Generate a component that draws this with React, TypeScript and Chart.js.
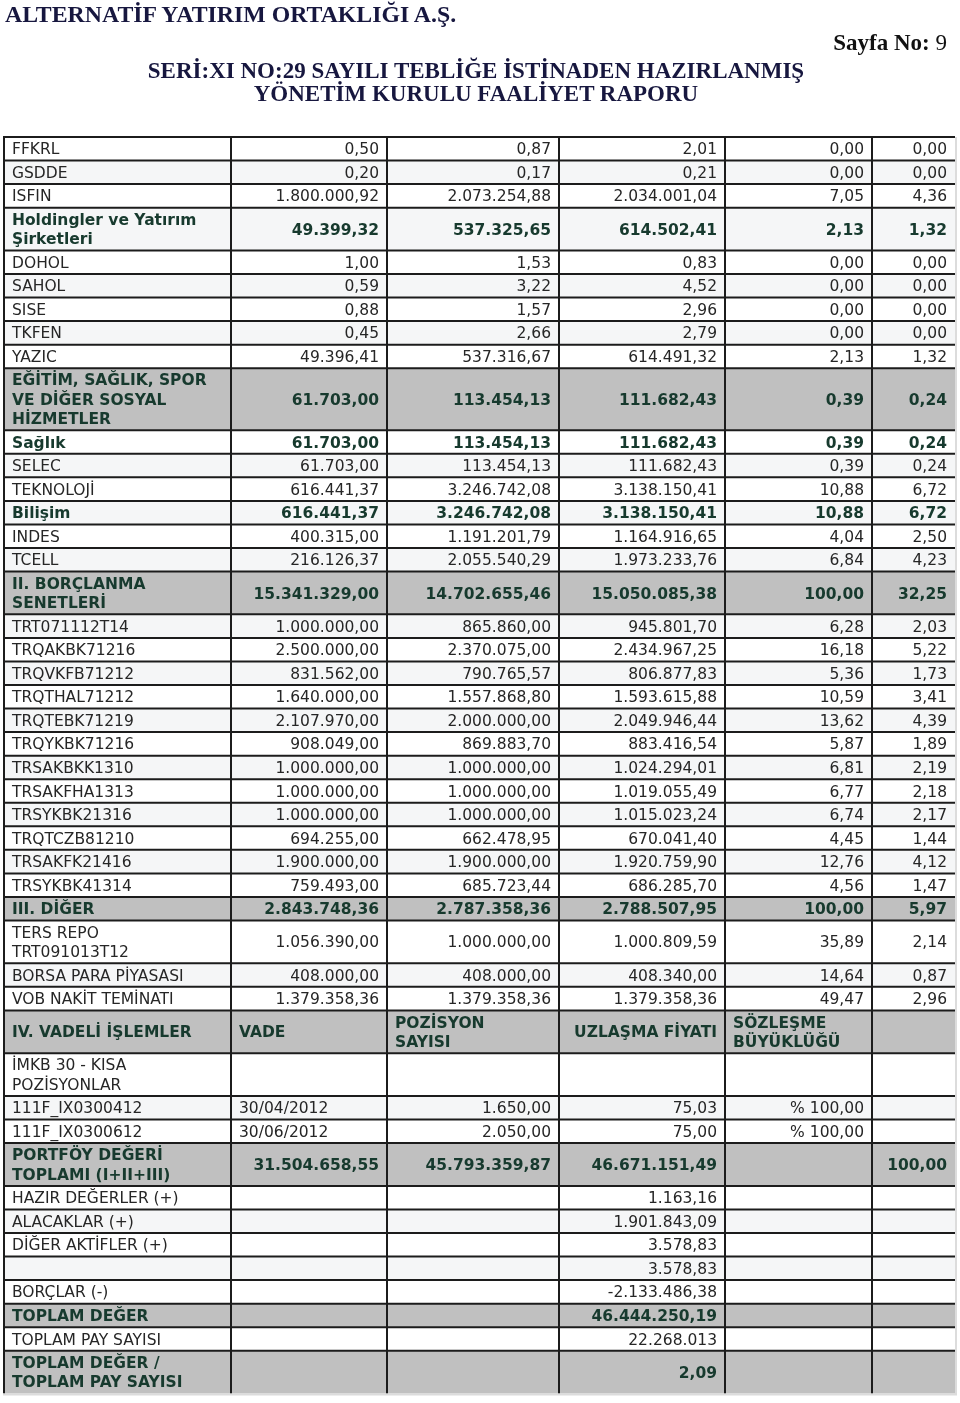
import React, { useEffect, useRef } from "react";
import { Chart, registerables } from "chart.js";

Chart.register(...registerables);

// ---------- DATA ----------
const rowLabels: string[] = [
  "FFKRL", "GSDDE", "ISFIN", "Holdingler ve Yatırım\nŞirketleri", "DOHOL", "SAHOL", "SISE", "TKFEN", "YAZIC",
  "EĞİTİM, SAĞLIK, SPOR\nVE DİĞER SOSYAL\nHİZMETLER", "Sağlık", "SELEC", "TEKNOLOJİ", "Bilişim", "INDES", "TCELL",
  "II. BORÇLANMA\nSENETLERİ", "TRT071112T14", "TRQAKBK71216", "TRQVKFB71212", "TRQTHAL71212", "TRQTEBK71219",
  "TRQYKBK71216", "TRSAKBKK1310", "TRSAKFHA1313", "TRSYKBK21316", "TRQTCZB81210", "TRSAKFK21416", "TRSYKBK41314",
  "III. DİĞER", "TERS REPO\nTRT091013T12", "BORSA PARA PİYASASI", "VOB NAKİT TEMİNATI",
  "IV. VADELİ İŞLEMLER", "İMKB 30 - KISA\nPOZİSYONLAR", "111F_IX0300412", "111F_IX0300612",
  "PORTFÖY DEĞERİ\nTOPLAMI (I+II+III)", "HAZIR DEĞERLER (+)", "ALACAKLAR (+)", "DİĞER AKTİFLER (+)", "",
  "BORÇLAR (-)", "TOPLAM DEĞER", "TOPLAM PAY SAYISI", "TOPLAM DEĞER /\nTOPLAM PAY SAYISI",
];

const nominalValues: string[] = [
  "0,50", "0,20", "1.800.000,92", "49.399,32", "1,00", "0,59", "0,88", "0,45", "49.396,41",
  "61.703,00", "61.703,00", "61.703,00", "616.441,37", "616.441,37", "400.315,00", "216.126,37",
  "15.341.329,00", "1.000.000,00", "2.500.000,00", "831.562,00", "1.640.000,00", "2.107.970,00",
  "908.049,00", "1.000.000,00", "1.000.000,00", "1.000.000,00", "694.255,00", "1.900.000,00", "759.493,00",
  "2.843.748,36", "1.056.390,00", "408.000,00", "1.379.358,36",
  "VADE", "", "30/04/2012", "30/06/2012",
  "31.504.658,55", "", "", "", "", "", "", "", "",
];

const costValues: string[] = [
  "0,87", "0,17", "2.073.254,88", "537.325,65", "1,53", "3,22", "1,57", "2,66", "537.316,67",
  "113.454,13", "113.454,13", "113.454,13", "3.246.742,08", "3.246.742,08", "1.191.201,79", "2.055.540,29",
  "14.702.655,46", "865.860,00", "2.370.075,00", "790.765,57", "1.557.868,80", "2.000.000,00",
  "869.883,70", "1.000.000,00", "1.000.000,00", "1.000.000,00", "662.478,95", "1.900.000,00", "685.723,44",
  "2.787.358,36", "1.000.000,00", "408.000,00", "1.379.358,36",
  "POZİSYON\nSAYISI", "", "1.650,00", "2.050,00",
  "45.793.359,87", "", "", "", "", "", "", "", "",
];

const marketValues: string[] = [
  "2,01", "0,21", "2.034.001,04", "614.502,41", "0,83", "4,52", "2,96", "2,79", "614.491,32",
  "111.682,43", "111.682,43", "111.682,43", "3.138.150,41", "3.138.150,41", "1.164.916,65", "1.973.233,76",
  "15.050.085,38", "945.801,70", "2.434.967,25", "806.877,83", "1.593.615,88", "2.049.946,44",
  "883.416,54", "1.024.294,01", "1.019.055,49", "1.015.023,24", "670.041,40", "1.920.759,90", "686.285,70",
  "2.788.507,95", "1.000.809,59", "408.340,00", "1.379.358,36",
  "UZLAŞMA FİYATI", "", "75,03", "75,00",
  "46.671.151,49", "1.163,16", "1.901.843,09", "3.578,83", "3.578,83", "-2.133.486,38",
  "46.444.250,19", "22.268.013", "2,09",
];

const groupShares: string[] = [
  "0,00", "0,00", "7,05", "2,13", "0,00", "0,00", "0,00", "0,00", "2,13",
  "0,39", "0,39", "0,39", "10,88", "10,88", "4,04", "6,84",
  "100,00", "6,28", "16,18", "5,36", "10,59", "13,62",
  "5,87", "6,81", "6,77", "6,74", "4,45", "12,76", "4,56",
  "100,00", "35,89", "14,64", "49,47",
  "SÖZLEŞME\nBÜYÜKLÜĞÜ", "", "% 100,00", "% 100,00",
  "", "", "", "", "", "", "", "", "",
];

const portfolioShares: string[] = [
  "0,00", "0,00", "4,36", "1,32", "0,00", "0,00", "0,00", "0,00", "1,32",
  "0,24", "0,24", "0,24", "6,72", "6,72", "2,50", "4,23",
  "32,25", "2,03", "5,22", "1,73", "3,41", "4,39",
  "1,89", "2,19", "2,18", "2,17", "1,44", "4,12", "1,47",
  "5,97", "2,14", "0,87", "2,96",
  "", "", "", "",
  "100,00", "", "", "", "", "", "", "", "",
];

// ---------- LAYOUT / STYLE (not data) ----------
const GRAY_ROWS = [9, 16, 29, 33, 37, 43, 45];
const BOLD_ROWS = [3, 10, 13];
const HEADER_ROW = 33;
const TABLE_TOP = 137;
const LINE_STEP = 19.25;
const ROW_BASE = 4.3;
const TEXT_LINE_GAP = 19.5;
const COL_EDGES = [4, 231, 387, 559, 725, 872, 955];
const CELL_PAD = 8;
const FONT_SIZE = 15.5;
const PAGE_W = 960;
const PAGE_H = 1403;

const columns = [rowLabels, nominalValues, costValues, marketValues, groupShares, portfolioShares];

const tablePlugin = {
  id: "reportTable",
  afterDraw(chart: any) {
    const ctx: CanvasRenderingContext2D = chart.ctx;
    const xs = chart.scales.x;
    const ys = chart.scales.y;
    const X = (v: number) => xs.getPixelForValue(v);
    const Y = (v: number) => ys.getPixelForValue(v);

    const tops: number[] = [];
    const bottoms: number[] = [];
    let cur = TABLE_TOP;
    for (let r = 0; r < rowLabels.length; r++) {
      let lines = 1;
      for (const col of columns) lines = Math.max(lines, (col[r] || "").split("\n").length);
      tops.push(cur);
      cur += ROW_BASE + LINE_STEP * lines;
      bottoms.push(cur);
    }
    const tableBottom = cur;
    const left = COL_EDGES[0];
    const right = COL_EDGES[COL_EDGES.length - 1];

    ctx.save();
    for (let r = 0; r < rowLabels.length; r++) {
      let fill = r % 2 === 1 ? "#f5f6f7" : "#ffffff";
      if (GRAY_ROWS.includes(r)) fill = "#c0c0c0";
      ctx.fillStyle = fill;
      ctx.fillRect(X(left), Y(tops[r]), X(right) - X(left), Y(bottoms[r]) - Y(tops[r]));
    }

    for (let r = 0; r < rowLabels.length; r++) {
      const bold = GRAY_ROWS.includes(r) || BOLD_ROWS.includes(r);
      ctx.font = `${bold ? "bold " : ""}${FONT_SIZE}px "DejaVu Sans", Verdana, sans-serif`;
      ctx.fillStyle = bold ? "#173a2e" : "#262626";
      ctx.textBaseline = "alphabetic";
      const center = (Y(tops[r]) + Y(bottoms[r])) / 2;
      for (let c = 0; c < columns.length; c++) {
        const txt = columns[c][r] || "";
        if (!txt) continue;
        const lines = txt.split("\n");
        const isDate = /^\d\d\/\d\d\/\d{4}$/.test(txt);
        const leftAlign = c === 0 || isDate || (r === HEADER_ROW && c !== 3);
        ctx.textAlign = leftAlign ? "left" : "right";
        const x = leftAlign ? X(COL_EDGES[c]) + CELL_PAD : X(COL_EDGES[c + 1]) - CELL_PAD;
        const first = center - ((lines.length - 1) * TEXT_LINE_GAP) / 2 + FONT_SIZE * 0.36;
        lines.forEach((ln, i) => ctx.fillText(ln, x, first + i * TEXT_LINE_GAP));
      }
    }

    ctx.strokeStyle = "#1c1c1c";
    ctx.lineWidth = 2;
    ctx.beginPath();
    for (let r = 0; r < rowLabels.length; r++) {
      ctx.moveTo(X(left) - 1, Y(tops[r]));
      ctx.lineTo(X(right), Y(tops[r]));
    }
    for (let c = 0; c < COL_EDGES.length - 1; c++) {
      ctx.moveTo(X(COL_EDGES[c]), Y(TABLE_TOP));
      ctx.lineTo(X(COL_EDGES[c]), Y(tableBottom));
    }
    ctx.stroke();
    ctx.strokeStyle = "#dcdcdc";
    ctx.beginPath();
    ctx.moveTo(X(right) + 1, Y(TABLE_TOP));
    ctx.lineTo(X(right) + 1, Y(tableBottom) + 1);
    ctx.lineTo(X(left) - 1, Y(tableBottom) + 1);
    ctx.stroke();
    ctx.restore();
  },
};

const headerFont = '"Liberation Serif", "Times New Roman", serif';

export default function App() {
  const ref = useRef<HTMLCanvasElement | null>(null);
  useEffect(() => {
    if (!ref.current) return;
    const chart = new Chart(ref.current, {
      type: "scatter",
      data: { datasets: [] },
      options: {
        responsive: false,
        animation: false,
        events: [],
        layout: { padding: 0 },
        plugins: { legend: { display: false }, tooltip: { enabled: false }, title: { display: false } },
        scales: {
          x: { type: "linear", min: 0, max: PAGE_W, display: false },
          y: { type: "linear", min: 0, max: PAGE_H, reverse: true, display: false },
        },
      },
      plugins: [tablePlugin],
    } as any);
    return () => chart.destroy();
  }, []);

  const titleStyle: React.CSSProperties = {
    position: "absolute",
    fontFamily: headerFont,
    fontWeight: "bold",
    fontSize: 23,
    lineHeight: "23px",
    color: "#17173f",
    whiteSpace: "nowrap",
    margin: 0,
  };

  return (
    <div style={{ position: "absolute", left: 0, top: 0, width: PAGE_W, height: PAGE_H, background: "#fff" }}>
      <canvas ref={ref} width={PAGE_W} height={PAGE_H} style={{ position: "absolute", left: 0, top: 0, width: PAGE_W, height: PAGE_H }} />
      <div style={{ ...titleStyle, left: 5, top: 3, fontSize: 23.8 }}>ALTERNATİF YATIRIM ORTAKLIĞI A.Ş.</div>
      <div style={{ ...titleStyle, right: 13, top: 31, color: "#111" }}>
        Sayfa No: <span style={{ fontWeight: "normal" }}>9</span>
      </div>
      <div style={{ ...titleStyle, left: 0, width: 952, textAlign: "center", top: 59 }}>
        SERİ:XI NO:29 SAYILI TEBLİĞE İSTİNADEN HAZIRLANMIŞ
      </div>
      <div style={{ ...titleStyle, left: 0, width: 952, textAlign: "center", top: 82 }}>
        YÖNETİM KURULU FAALİYET RAPORU
      </div>
    </div>
  );
}
